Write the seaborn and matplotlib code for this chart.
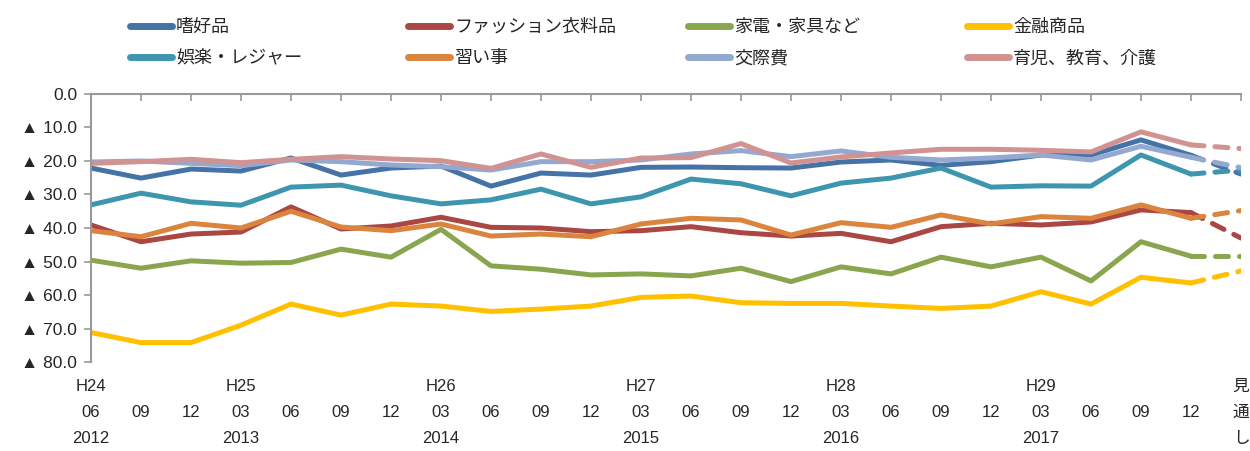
import numpy as np
import pandas as pd
import matplotlib
matplotlib.use("Agg")
import matplotlib.pyplot as plt
import seaborn as sns

# quarterly survey values (negative = ▲), last value is the forecast (見通し)
shikohin = [-22.1, -25.1, -22.4, -23.0, -19.1, -24.2, -22.1, -21.5, -27.5, -23.6, -24.2, -21.9,
            -21.8, -22.0, -22.1, -20.3, -19.7, -21.3, -20.2, -18.2, -18.2, -13.7, -18.3, -23.9]
fashion = [-39.1, -44.1, -41.8, -41.2, -33.7, -40.3, -39.4, -36.8, -39.8, -40.0, -41.1, -40.8,
           -39.6, -41.4, -42.4, -41.6, -44.1, -39.6, -38.6, -39.1, -38.2, -34.6, -35.4, -43.0]
kaden = [-49.6, -52.0, -49.8, -50.5, -50.3, -46.3, -48.7, -40.4, -51.3, -52.3, -54.0, -53.7,
         -54.3, -52.0, -56.0, -51.6, -53.7, -48.7, -51.6, -48.7, -55.8, -44.1, -48.4, -48.4]
kinyu = [-71.2, -74.2, -74.2, -69.0, -62.7, -66.0, -62.7, -63.3, -64.9, -64.2, -63.3, -60.7,
         -60.3, -62.3, -62.5, -62.5, -63.3, -64.0, -63.3, -59.0, -62.7, -54.7, -56.4, -52.8]
goraku = [-33.1, -29.6, -32.2, -33.2, -27.8, -27.2, -30.4, -32.8, -31.6, -28.4, -32.8, -30.7,
          -25.4, -26.8, -30.4, -26.6, -25.1, -22.1, -27.8, -27.4, -27.5, -18.2, -23.9, -22.7]
naraigoto = [-40.8, -42.6, -38.6, -40.0, -35.0, -39.7, -40.8, -38.8, -42.4, -41.8, -42.6, -38.8,
             -37.1, -37.6, -42.1, -38.4, -39.8, -36.1, -38.8, -36.6, -37.1, -33.1, -37.1, -34.8]
kosaihi = [-20.3, -20.0, -20.7, -21.4, -19.7, -20.2, -21.2, -21.7, -22.7, -20.2, -20.2, -19.7,
           -17.9, -16.9, -18.7, -17.0, -18.9, -19.7, -19.1, -18.2, -19.7, -15.6, -18.9, -22.0]
ikuji = [-20.7, -20.2, -19.5, -20.5, -19.5, -18.7, -19.4, -19.9, -22.2, -17.9, -21.9, -19.1,
         -19.0, -14.8, -20.6, -18.8, -17.6, -16.5, -16.5, -16.8, -17.3, -11.3, -15.2, -16.3]

series_names = ["嗜好品", "ファッション衣料品", "家電・家具など", "金融商品",
                "娯楽・レジャー", "習い事", "交際費", "育児、教育、介護"]
series_values = [shikohin, fashion, kaden, kinyu, goraku, naraigoto, kosaihi, ikuji]
colors = ["#4572A7", "#AA4643", "#89A54E", "#FFC000",
          "#3D96AE", "#DB843D", "#93A9CF", "#D19392"]

era = ["H24", "", "", "H25", "", "", "", "H26", "", "", "", "H27", "", "", "",
       "H28", "", "", "", "H29", "", "", "", ""]
month = ["06", "09", "12", "03", "06", "09", "12", "03", "06", "09", "12", "03",
         "06", "09", "12", "03", "06", "09", "12", "03", "06", "09", "12", ""]
year = ["2012", "", "", "2013", "", "", "", "2014", "", "", "", "2015", "", "", "",
        "2016", "", "", "", "2017", "", "", "", ""]
forecast_label = "見\n通\nし"

sns.set_style("white")
plt.rcParams["font.family"] = ["Liberation Sans", "Noto Sans CJK JP", "DejaVu Sans"]

fig = plt.figure(figsize=(12.5, 4.51), dpi=100)
ax = fig.add_axes([0.0728, 0.1973, 0.92, 0.5943])

n = len(month)
x = np.arange(n)
for name, vals, c in zip(series_names, series_values, colors):
    df = pd.DataFrame({"x": x[:n - 1], "y": vals[:n - 1]})
    sns.lineplot(data=df, x="x", y="y", color=c, lw=3.6, label=name, ax=ax,
                 solid_capstyle="round", solid_joinstyle="round")
    df2 = pd.DataFrame({"x": x[n - 2:], "y": vals[n - 2:]})
    sns.lineplot(data=df2, x="x", y="y", color=c, lw=3.6, ax=ax,
                 linestyle=(0, (2.6, 2.2)), dash_capstyle="round")

ax.set_xlim(0, n - 1)
ax.set_ylim(-80, 0)
yt = np.arange(-80, 1, 10)
ax.set_yticks(yt)
ax.set_yticklabels(["0.0" if v == 0 else "▲ %.1f" % abs(v) for v in yt], fontsize=12.5)

labels = ["%s\n%s\n%s" % (e, m, y) for e, m, y in zip(era, month, year)]
labels[-1] = forecast_label
ax.set_xticks(x)
ax.set_xticklabels(labels, fontsize=12, linespacing=1.93)
ax.tick_params(axis="x", bottom=False, top=True, direction="in", length=5,
               color="#999999", width=1.2, labelbottom=True, pad=12)
ax.tick_params(axis="y", left=True, direction="out", length=5, color="#999999",
               width=1.2, pad=5)
ax.set_xlabel("")
ax.set_ylabel("")

for s in ["bottom", "right"]:
    ax.spines[s].set_visible(False)
for s in ["top", "left"]:
    ax.spines[s].set_color("#999999")
    ax.spines[s].set_linewidth(1.5)

# legend: 4 equal-width columns, two rows
handles, lbls = ax.get_legend_handles_labels()
ax.get_legend().remove()
col_x = [130, 408, 688, 967]
for j, px in enumerate(col_x):
    leg = fig.legend([handles[j], handles[j + 4]], [lbls[j], lbls[j + 4]],
                     loc="upper left", bbox_to_anchor=(px / 1250, 1 - 19 / 451),
                     frameon=False, fontsize=13, handlelength=2.35, handletextpad=0.2,
                     labelspacing=0.8, borderpad=0, borderaxespad=0)
    for h in leg.get_lines():
        h.set_linewidth(5)
        h.set_solid_capstyle("round")

fig.savefig("out.png", dpi=100)
